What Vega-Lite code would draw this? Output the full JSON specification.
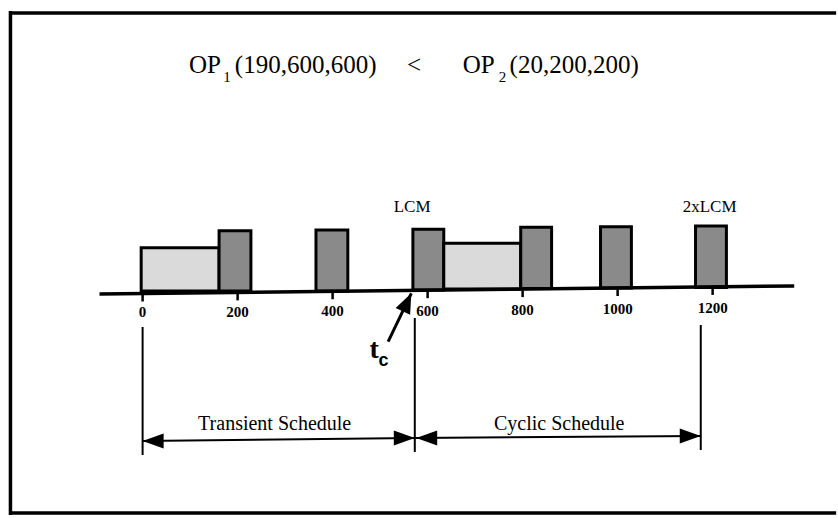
{
  "$schema": "https://vega.github.io/schema/vega-lite/v6.json",
  "width": 838,
  "height": 518,
  "padding": 0,
  "autosize": {"type": "fit", "contains": "padding"},
  "background": "white",
  "config": {"view": {"stroke": null}},
  "datasets": {
    "frame": [
      {"x": -278.2, "x2": 1460, "y": 278, "y2": 278},
      {"x": -278.2, "x2": 1460, "y": -222, "y2": -222},
      {"x": -278.2, "x2": -278.2, "y": 280, "y2": -224}
    ],
    "bars": [
      {"op": "OP1", "x0": -3, "x1": 161, "y0": 0, "y1": 43.3},
      {"op": "OP2", "x0": 161, "x1": 228, "y0": 0, "y1": 60.3},
      {"op": "OP2", "x0": 365, "x1": 432, "y0": 0, "y1": 61},
      {"op": "OP2", "x0": 569, "x1": 634, "y0": 1, "y1": 61.7},
      {"op": "OP1", "x0": 634, "x1": 796, "y0": 2, "y1": 47.7},
      {"op": "OP2", "x0": 796, "x1": 861, "y0": 2.5, "y1": 63.7},
      {"op": "OP2", "x0": 964, "x1": 1029, "y0": 3, "y1": 64.3},
      {"op": "OP2", "x0": 1164, "x1": 1229, "y0": 3.5, "y1": 65}
    ],
    "axisline": [{"x": -90.7, "x2": 1371.7, "y": -3, "y2": 5}],
    "ticks": [
      {"t": 0, "y0": -4, "y1": -10.5, "ly": -21, "label": "0"},
      {"t": 200, "y0": -2.9, "y1": -9.4, "ly": -21, "label": "200"},
      {"t": 400, "y0": -1.8, "y1": -8.3, "ly": -19.5, "label": "400"},
      {"t": 600, "y0": -0.7, "y1": -7.2, "ly": -20, "label": "600"},
      {"t": 800, "y0": 0.4, "y1": -6.1, "ly": -18.5, "label": "800"},
      {"t": 1000, "y0": 1.5, "y1": -5, "ly": -18, "label": "1000"},
      {"t": 1200, "y0": 2.6, "y1": -3.9, "ly": -17, "label": "1200"}
    ],
    "vlines": [
      {"x": 0, "y": -36, "y2": -164},
      {"x": 573, "y": -27, "y2": -161},
      {"x": 1175, "y": -34, "y2": -159}
    ],
    "spans": [
      {"x": 0, "x2": 573, "y": -150, "y2": -147},
      {"x": 573, "x2": 1175, "y": -147, "y2": -145}
    ],
    "headsRight": [
      {"x": 573, "y": -147},
      {"x": 1175, "y": -145}
    ],
    "headsLeft": [
      {"x": 0, "y": -150},
      {"x": 576, "y": -147}
    ],
    "tcArrow": [{"x": 516.9, "y": -50.7, "x2": 565.7, "y2": -2.3}],
    "tcHead": [{"x": 565.7, "y": -2.3}],
    "titleText": [
      {"x": 97.8, "y": 218, "t": "OP"},
      {"x": 194.2, "y": 218, "t": "(190,600,600)"},
      {"x": 674, "y": 218, "t": "OP"},
      {"x": 772.5, "y": 218, "t": "(20,200,200)"}
    ],
    "lessThan": [{"x": 571.3, "y": 218, "t": "<"}],
    "subs": [
      {"x": 170, "y": 209, "t": "1"},
      {"x": 750, "y": 209, "t": "2"}
    ],
    "lcm": [
      {"x": 567.4, "y": 84, "t": "LCM"},
      {"x": 1193.6, "y": 84, "t": "2xLCM"}
    ],
    "tLetter": [{"x": 487.5, "y": -59, "t": "t"}],
    "cLetter": [{"x": 507, "y": -70, "t": "c"}],
    "sched": [
      {"x": 278, "y": -133, "t": "Transient Schedule"},
      {"x": 877, "y": -133, "t": "Cyclic Schedule"}
    ]
  },
  "layer": [
    {
      "data": {"name": "frame"},
      "mark": {"type": "rule", "stroke": "black", "strokeWidth": 3.5},
      "encoding": {
        "x": {"field": "x", "type": "quantitative", "scale": {"domain": [-300.2, 1455.5], "nice": false, "zero": false}, "axis": null},
        "x2": {"field": "x2"},
        "y": {"field": "y", "type": "quantitative", "scale": {"domain": [-227, 291], "nice": false, "zero": false}, "axis": null},
        "y2": {"field": "y2"}
      }
    },
    {
      "data": {"name": "bars"},
      "mark": {"type": "rect", "stroke": "black", "strokeWidth": 3},
      "encoding": {
        "x": {"field": "x0", "type": "quantitative"},
        "x2": {"field": "x1"},
        "y": {"field": "y0", "type": "quantitative"},
        "y2": {"field": "y1"},
        "fill": {"field": "op", "type": "nominal", "scale": {"domain": ["OP1", "OP2"], "range": ["#dadada", "#8a8a8a"]}, "legend": null}
      }
    },
    {
      "data": {"name": "axisline"},
      "mark": {"type": "rule", "stroke": "black", "strokeWidth": 3.5},
      "encoding": {
        "x": {"field": "x", "type": "quantitative"},
        "x2": {"field": "x2"},
        "y": {"field": "y", "type": "quantitative"},
        "y2": {"field": "y2"}
      }
    },
    {
      "data": {"name": "ticks"},
      "mark": {"type": "rule", "stroke": "black", "strokeWidth": 2.5},
      "encoding": {
        "x": {"field": "t", "type": "quantitative"},
        "y": {"field": "y0", "type": "quantitative"},
        "y2": {"field": "y1"}
      }
    },
    {
      "data": {"name": "ticks"},
      "mark": {"type": "text", "font": "Liberation Serif", "fontSize": 15, "fontWeight": "bold", "baseline": "middle", "align": "center", "fill": "black"},
      "encoding": {
        "x": {"field": "t", "type": "quantitative"},
        "y": {"field": "ly", "type": "quantitative"},
        "text": {"field": "label"}
      }
    },
    {
      "data": {"name": "vlines"},
      "mark": {"type": "rule", "stroke": "black", "strokeWidth": 2},
      "encoding": {
        "x": {"field": "x", "type": "quantitative"},
        "y": {"field": "y", "type": "quantitative"},
        "y2": {"field": "y2"}
      }
    },
    {
      "data": {"name": "spans"},
      "mark": {"type": "rule", "stroke": "black", "strokeWidth": 2},
      "encoding": {
        "x": {"field": "x", "type": "quantitative"},
        "x2": {"field": "x2"},
        "y": {"field": "y", "type": "quantitative"},
        "y2": {"field": "y2"}
      }
    },
    {
      "data": {"name": "headsRight"},
      "mark": {"type": "point", "shape": "M0,0L-1,-0.36L-1,0.36Z", "size": 1764, "filled": true, "fill": "black", "opacity": 1, "strokeWidth": 0},
      "encoding": {
        "x": {"field": "x", "type": "quantitative"},
        "y": {"field": "y", "type": "quantitative"}
      }
    },
    {
      "data": {"name": "headsLeft"},
      "mark": {"type": "point", "shape": "M0,0L1,-0.36L1,0.36Z", "size": 1764, "filled": true, "fill": "black", "opacity": 1, "strokeWidth": 0},
      "encoding": {
        "x": {"field": "x", "type": "quantitative"},
        "y": {"field": "y", "type": "quantitative"}
      }
    },
    {
      "data": {"name": "tcArrow"},
      "mark": {"type": "rule", "stroke": "black", "strokeWidth": 3},
      "encoding": {
        "x": {"field": "x", "type": "quantitative"},
        "x2": {"field": "x2"},
        "y": {"field": "y", "type": "quantitative"},
        "y2": {"field": "y2"}
      }
    },
    {
      "data": {"name": "tcHead"},
      "mark": {"type": "point", "shape": "M0,0L-1,-0.4L-1,0.4Z", "size": 1600, "angle": 295, "filled": true, "fill": "black", "opacity": 1, "strokeWidth": 0},
      "encoding": {
        "x": {"field": "x", "type": "quantitative"},
        "y": {"field": "y", "type": "quantitative"}
      }
    },
    {
      "data": {"name": "titleText"},
      "mark": {"type": "text", "font": "Liberation Serif", "fontSize": 25, "align": "left", "baseline": "alphabetic", "fill": "black"},
      "encoding": {
        "x": {"field": "x", "type": "quantitative"},
        "y": {"field": "y", "type": "quantitative"},
        "text": {"field": "t"}
      }
    },
    {
      "data": {"name": "lessThan"},
      "mark": {"type": "text", "font": "Liberation Serif", "fontSize": 25, "align": "center", "baseline": "alphabetic", "fill": "black"},
      "encoding": {
        "x": {"field": "x", "type": "quantitative"},
        "y": {"field": "y", "type": "quantitative"},
        "text": {"field": "t"}
      }
    },
    {
      "data": {"name": "subs"},
      "mark": {"type": "text", "font": "Liberation Serif", "fontSize": 15, "align": "left", "baseline": "alphabetic", "fill": "black"},
      "encoding": {
        "x": {"field": "x", "type": "quantitative"},
        "y": {"field": "y", "type": "quantitative"},
        "text": {"field": "t"}
      }
    },
    {
      "data": {"name": "lcm"},
      "mark": {"type": "text", "font": "Liberation Serif", "fontSize": 17, "align": "center", "baseline": "middle", "fill": "black"},
      "encoding": {
        "x": {"field": "x", "type": "quantitative"},
        "y": {"field": "y", "type": "quantitative"},
        "text": {"field": "t"}
      }
    },
    {
      "data": {"name": "tLetter"},
      "mark": {"type": "text", "font": "Liberation Serif", "fontSize": 28, "fontWeight": "bold", "align": "center", "baseline": "middle", "fill": "black"},
      "encoding": {
        "x": {"field": "x", "type": "quantitative"},
        "y": {"field": "y", "type": "quantitative"},
        "text": {"field": "t"}
      }
    },
    {
      "data": {"name": "cLetter"},
      "mark": {"type": "text", "font": "Liberation Sans", "fontSize": 18, "fontWeight": "bold", "align": "center", "baseline": "middle", "fill": "black"},
      "encoding": {
        "x": {"field": "x", "type": "quantitative"},
        "y": {"field": "y", "type": "quantitative"},
        "text": {"field": "t"}
      }
    },
    {
      "data": {"name": "sched"},
      "mark": {"type": "text", "font": "Liberation Serif", "fontSize": 20, "align": "center", "baseline": "middle", "fill": "black"},
      "encoding": {
        "x": {"field": "x", "type": "quantitative"},
        "y": {"field": "y", "type": "quantitative"},
        "text": {"field": "t"}
      }
    }
  ]
}
